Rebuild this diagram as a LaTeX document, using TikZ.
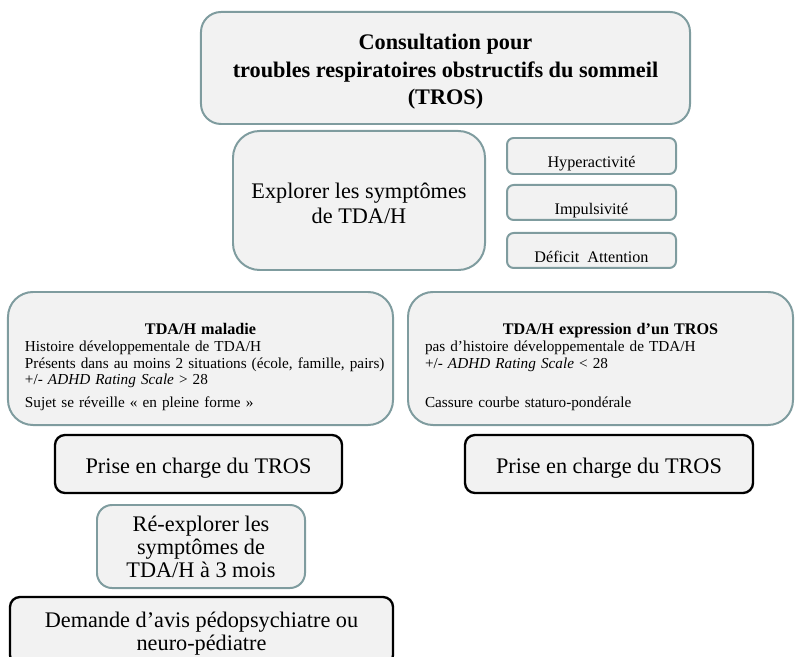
\documentclass[tikz,border=0pt]{standalone}
\usepackage{fontspec}
\setmainfont{Liberation Serif}
\usetikzlibrary{positioning}

\definecolor{boxline}{HTML}{7F9C9F}
\definecolor{boxfill}{HTML}{F2F2F2}

\begin{document}
\begin{tikzpicture}[x=0.03cm, y=-0.03cm, node distance=0.27cm,
                    tealbox/.style={draw=boxline, fill=boxfill, line width=1.7pt,
                                    inner sep=0pt, align=center},
                    blackbox/.style={draw=black, fill=boxfill, line width=2pt,
                                     inner sep=0pt, align=center, rounded corners=0.3cm},
                    symptom/.style={tealbox, rounded corners=0.2cm,
                                    minimum width=5.07cm, minimum height=1.05cm,
                                    text height=0.8cm, text depth=0.09cm,
                                    font=\fontsize{13.8}{15}\selectfont},
                    casebox/.style={tealbox, rounded corners=0.75cm, align=left,
                                    minimum width=11.55cm, minimum height=3.99cm,
                                    text width=10.53cm, inner xsep=0.51cm,
                                    font=\fontsize{13}{14.5}\selectfont},
                    big/.style={font=\fontsize{19}{22}\selectfont}]
  \useasboundingbox (0,0) rectangle (795,657);
  \clip (0,0) rectangle (795,657);

  \node[tealbox, rounded corners=0.6cm, minimum width=14.67cm, minimum height=3.36cm,
        font=\fontsize{19}{23.5}\selectfont\bfseries]
        (consult) at (445.5,68)
        {\rule{0pt}{20pt}Consultation pour\\troubles respiratoires obstructifs du sommeil\\(TROS)};

  \node[tealbox, rounded corners=0.8cm, minimum width=7.56cm, minimum height=4.17cm,
        font=\fontsize{19}{21.3}\selectfont]
        (explore) at (359,200.5) {\rule{0pt}{18pt}Explorer les symptômes\\de TDA/H};

  \node[symptom, minimum height=1.08cm] (hyper) at (591.5,156) {Hyperactivité};
  \node[symptom] (impuls) [below=0.27cm of hyper]  {Impulsivité};
  \node[symptom] (deficit) [below=0.33cm of impuls] {Déficit~~Attention};

  \node[casebox] (maladie) at (200.5,358.5)
        {{\centering\fontsize{13.8}{14.5}\selectfont\bfseries\rule{0pt}{24pt}TDA/H maladie\par}
         Histoire développementale de TDA/H\\
         \mbox{Présents dans au moins 2 situations (école, famille, pairs)}\\
         +/- \textit{ADHD Rating Scale} > 28\\[5pt]
         Sujet se réveille «~en pleine forme~»};
  \node[casebox] (expression) at (600.5,358.5)
        {{\centering\fontsize{13.8}{14.5}\selectfont\bfseries\rule{0pt}{24pt}\hspace*{0.6cm}TDA/H expression d’un TROS\par}
         pas d’histoire développementale de TDA/H\\
         +/- \textit{ADHD Rating Scale} < 28\\
         \mbox{}\\[5pt]
         Cassure courbe staturo-pondérale};

  \node[blackbox, big, minimum width=8.61cm, minimum height=1.74cm,
        text height=0.69cm, text depth=0.15cm]
        (priseL) at (198.5,464) {Prise en charge du TROS};
  \node[blackbox, big, minimum width=8.64cm, minimum height=1.74cm,
        text height=0.69cm, text depth=0.15cm]
        (priseR) at (609,464) {Prise en charge du TROS};

  \node[tealbox, rounded corners=0.45cm, minimum width=6.24cm, minimum height=2.49cm,
        font=\fontsize{19}{19.6}\selectfont]
        (reexplore) at (201,546.5) {Ré-explorer les\\symptômes de\\TDA/H à 3 mois};

  \node[blackbox, minimum width=11.49cm, minimum height=2.04cm,
        font=\fontsize{19}{19.6}\selectfont]
        (avis) at (201.5,631) {\rule{0pt}{17.5pt}Demande d’avis pédopsychiatre ou\\neuro-pédiatre};
\end{tikzpicture}
\end{document}
